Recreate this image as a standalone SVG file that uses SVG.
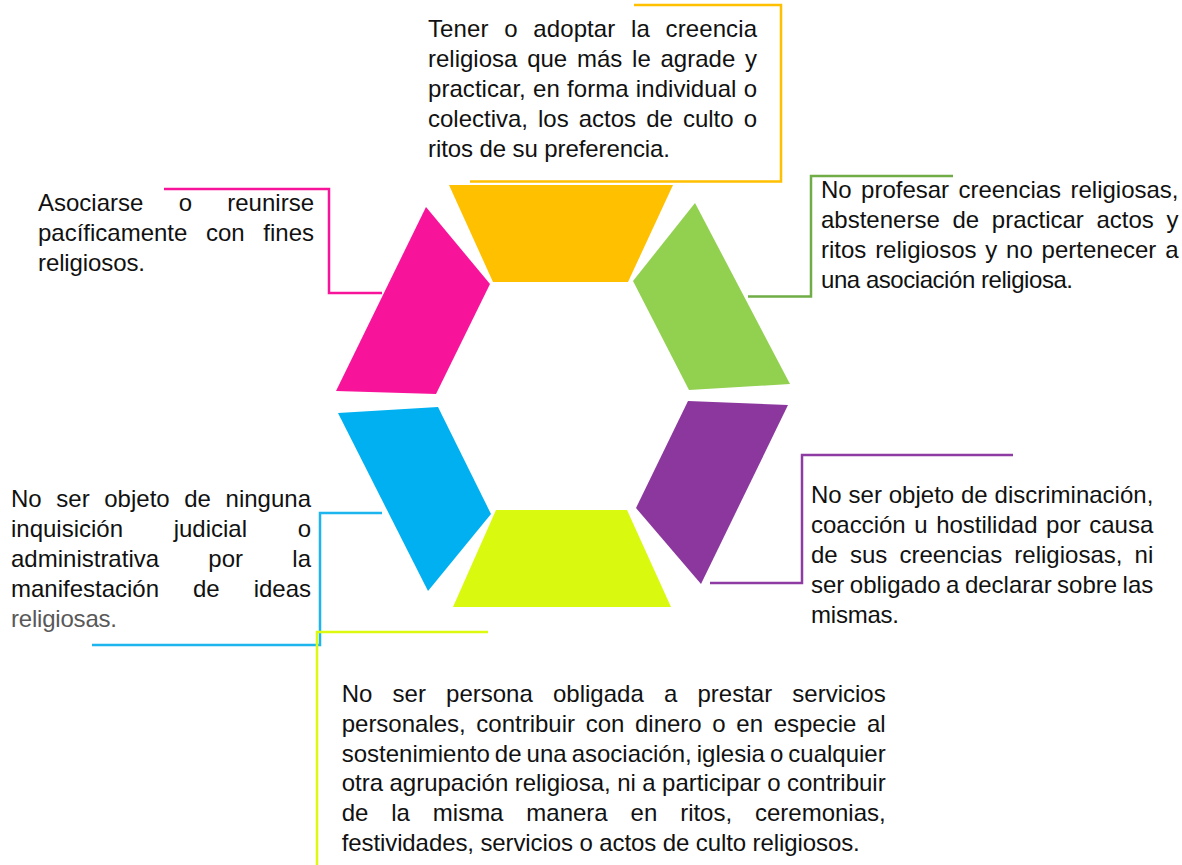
<svg xmlns="http://www.w3.org/2000/svg" width="1182" height="865" viewBox="0 0 1182 865">
<style>
.t{font-family:"Liberation Sans",Arial,sans-serif;font-size:24px;fill:#111}
.g{fill:#595959}
.c{fill:none;stroke-width:2.5}
</style>
<rect width="1182" height="865" fill="#fff"/>
<g id="connectors">
<polyline class="c" stroke="#FFC000" points="634,5 781,5 781,181.5 470,181.5"/>
<polyline class="c" stroke="#F8149A" points="164,189 329,189 329,293 382,293"/>
<polyline class="c" stroke="#70AD47" points="953,176 811,176 811,296.5 748,296.5"/>
<polyline class="c" stroke="#8E3CA4" points="1013,455 802,455 802,583 710,583"/>
<polyline class="c" stroke="#1DB5EE" points="382,513 320,513 320,645 92,645"/>
<polyline class="c" stroke="#DCF90E" points="488,632 317,632 317,865"/>
</g>
<g id="node-top">
<polygon fill="#FFC000" points="449,185 673,185 628,282 493,282"/>
<text class="t" x="428" y="36.7" word-spacing="8.9" textLength="329" lengthAdjust="spacing">Tener o adoptar la creencia</text>
<text class="t" x="428" y="66.7" word-spacing="3.1" textLength="329" lengthAdjust="spacing">religiosa que más le agrade y</text>
<text class="t" x="428" y="96.7" word-spacing="0.5" textLength="329" lengthAdjust="spacing">practicar, en forma individual o</text>
<text class="t" x="428" y="126.7" word-spacing="3.4" textLength="329" lengthAdjust="spacing">colectiva, los actos de culto o</text>
<text class="t" x="428" y="156.7" textLength="242" lengthAdjust="spacing">ritos de su preferencia.</text>
</g>
<g id="node-pink">
<polygon fill="#F8149A" points="426,207 490,284 436,394 336,391"/>
<text class="t" x="38" y="210.7" word-spacing="28.6" textLength="276" lengthAdjust="spacing">Asociarse o reunirse</text>
<text class="t" x="38" y="240.7" word-spacing="12" textLength="276" lengthAdjust="spacing">pacíficamente con fines</text>
<text class="t" x="38" y="270.7" textLength="107" lengthAdjust="spacing">religiosos.</text>
</g>
<g id="node-green">
<polygon fill="#92D050" points="695,203 790,384 689,390 633,281"/>
<text class="t" x="821" y="197.7" word-spacing="2.7" textLength="357.5" lengthAdjust="spacing">No profesar creencias religiosas,</text>
<text class="t" x="821" y="227.7" word-spacing="6" textLength="357.5" lengthAdjust="spacing">abstenerse de practicar actos y</text>
<text class="t" x="821" y="257.7" word-spacing="2.1" textLength="357.5" lengthAdjust="spacing">ritos religiosos y no pertenecer a</text>
<text class="t" x="821" y="287.7" textLength="252" lengthAdjust="spacing">una asociación religiosa.</text>
</g>
<g id="node-purple">
<polygon fill="#8B379E" points="688,401 788,405 701,584 636,508"/>
<text class="t" x="811" y="503" word-spacing="0.2" textLength="342.3" lengthAdjust="spacing">No ser objeto de discriminación,</text>
<text class="t" x="811" y="533" word-spacing="1.9" textLength="342.3" lengthAdjust="spacing">coacción u hostilidad por causa</text>
<text class="t" x="811" y="563" word-spacing="5.5" textLength="342.3" lengthAdjust="spacing">de sus creencias religiosas, ni</text>
<text class="t" x="811" y="593" word-spacing="-1.2" textLength="342.3" lengthAdjust="spacing">ser obligado a declarar sobre las</text>
<text class="t" x="811" y="623" textLength="88" lengthAdjust="spacing">mismas.</text>
</g>
<g id="node-blue">
<polygon fill="#00B0F0" points="338,413 438,407 491,514 428,591"/>
<text class="t" x="11" y="506.7" word-spacing="8" textLength="300" lengthAdjust="spacing">No ser objeto de ninguna</text>
<text class="t" x="11" y="536.7" word-spacing="44" textLength="300" lengthAdjust="spacing">inquisición judicial o</text>
<text class="t" x="11" y="566.7" word-spacing="42.6" textLength="300" lengthAdjust="spacing">administrativa por la</text>
<text class="t" x="11" y="596.7" word-spacing="27.3" textLength="300" lengthAdjust="spacing">manifestación de ideas</text>
<text class="t g" x="11" y="626.7" textLength="106" lengthAdjust="spacing">religiosas.</text>
</g>
<g id="node-lime">
<polygon fill="#D9F90E" points="496,510 627,510 671,607 453,607"/>
<text class="t" x="341.7" y="701.7" word-spacing="13.5" textLength="544" lengthAdjust="spacing">No ser persona obligada a prestar servicios</text>
<text class="t" x="341.7" y="731.6" word-spacing="4" textLength="544" lengthAdjust="spacing">personales, contribuir con dinero o en especie al</text>
<text class="t" x="341.7" y="761.5" word-spacing="-1.6" textLength="544" lengthAdjust="spacing">sostenimiento de una asociación, iglesia o cualquier</text>
<text class="t" x="341.7" y="791.4" word-spacing="-0.2" textLength="544" lengthAdjust="spacing">otra agrupación religiosa, ni a participar o contribuir</text>
<text class="t" x="341.7" y="821.3" word-spacing="16.2" textLength="544" lengthAdjust="spacing">de la misma manera en ritos, ceremonias,</text>
<text class="t" x="341.7" y="851.2" textLength="518" lengthAdjust="spacing">festividades, servicios o actos de culto religiosos.</text>
</g>
</svg>
